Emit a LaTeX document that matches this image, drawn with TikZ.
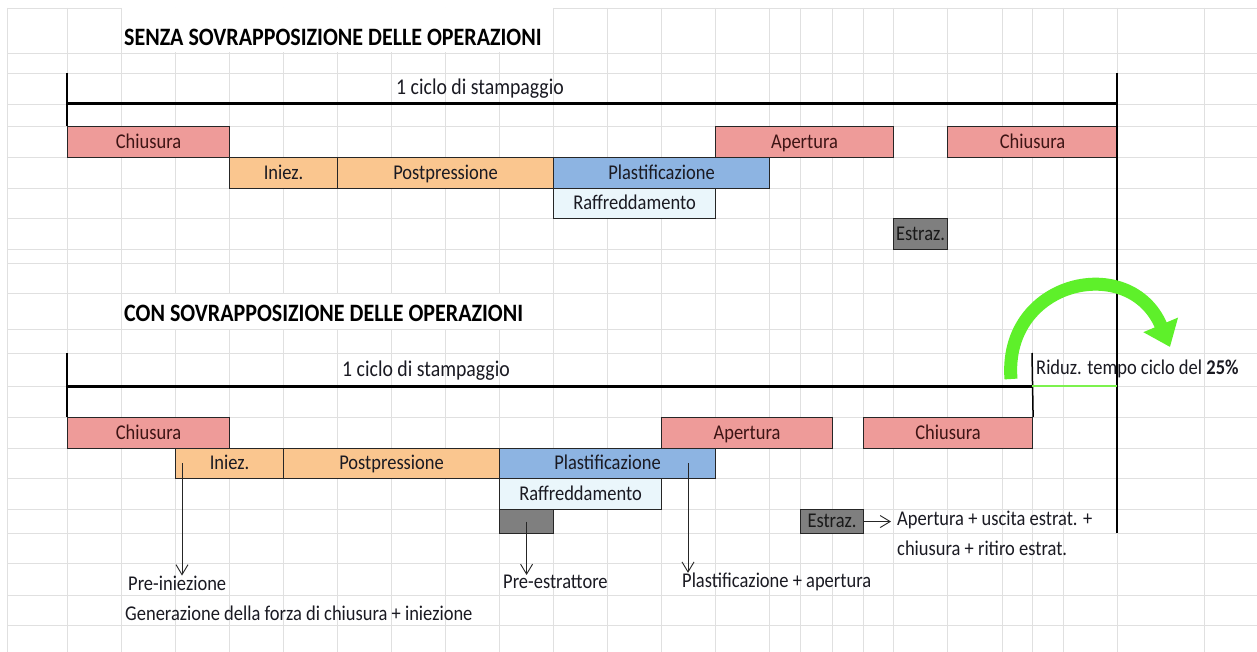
\documentclass[tikz,border=0pt]{standalone}
\usepackage{fontspec}
\setmainfont{Carlito}[FakeStretch=0.88]
\usetikzlibrary{arrows.meta,calc}
\definecolor{gridc}{HTML}{E0E0E0}
\definecolor{redc}{HTML}{EE9B99}
\definecolor{orac}{HTML}{FAC68F}
\definecolor{bluc}{HTML}{8DB4E2}
\definecolor{cyac}{HTML}{EAF6FB}
\definecolor{grac}{HTML}{7F7F7F}
\definecolor{grnc}{HTML}{5EF02A}
\definecolor{grnl}{HTML}{7CF24E}
\definecolor{txtc}{HTML}{1A1A22}
\definecolor{redtxt}{HTML}{3D1414}
\begin{document}
\begin{tikzpicture}[x=1pt,y=-1pt,
  bx/.style={draw=black!85,line width=1.1pt,inner sep=0pt,anchor=north west,
    font=\fontsize{21}{23}\selectfont,text=txtc,text height=16pt,text depth=4pt},
  rbx/.style={bx,fill=redc,text=redtxt},
  obx/.style={bx,fill=orac},
  bbx/.style={bx,fill=bluc},
  cbx/.style={bx,fill=cyac},
  gbx/.style={bx,fill=grac,text=black!90},
  ttl/.style={anchor=west,inner sep=0pt,font=\bfseries\fontsize{25}{27}\selectfont},
  cyc/.style={inner sep=0pt,font=\fontsize{22.5}{24}\selectfont,text=txtc},
  ann/.style={anchor=west,inner sep=0pt,font=\fontsize{21}{23}\selectfont,text=txtc},
  axis/.style={draw=black,line width=1.5pt},
  bar/.style={draw=black,line width=3pt},
  arr/.style={draw=black!85,line width=0.9pt,-{Straight Barb[length=10pt,width=12pt]}},
]
\useasboundingbox (0,0) rectangle (1257,652);
\fill[white] (0,0) rectangle (1257,652);
% grid
\foreach \gx in {7,67,121,175,229,283,337,391,445,499,553,607,661,715,769,800,832,863,893,947,1002,1032,1063,1117,1204}
  \draw[gridc,line width=0.8pt] (\gx,8) -- (\gx,652);
\foreach \gy in {8,53,73,104,126,157,188,218,249,263,293,329,353,386,417,448,478,509,533,563,595,625}
  \draw[gridc,line width=0.8pt] (7,\gy) -- (1257,\gy);
% merged title cells
\fill[white] (121.5,8.5) rectangle (552.5,52.5);
\fill[white] (121.5,293.5) rectangle (552.5,328.5);

% ===== top section =====
\node[ttl] (t1) at (124,37) {SENZA SOVRAPPOSIZIONE DELLE OPERAZIONI};
\coordinate (tl1) at (67,73);
\coordinate (tl2) at (67,104);
\coordinate (tr1) at (1117,73);
\coordinate (tr2) at (1117,104);
\coordinate (tr3) at (1117,533);
\node[cyc] (cy1) at (480,89) {1 ciclo di stampaggio};

\node[rbx,minimum width=162pt,minimum height=31pt] (c1) at (67,126) {Chiusura};
\node[rbx,minimum width=178pt,minimum height=31pt] (ap1) at (715,126) {Apertura};
\node[rbx,minimum width=170pt,minimum height=31pt] (c2) at (947,126) {Chiusura};
\node[obx,minimum width=108pt,minimum height=31pt] (in1) at (229,157) {Iniez.};
\node[obx,minimum width=216pt,minimum height=31pt] (pp1) at (337,157) {Postpressione};
\node[bbx,minimum width=216pt,minimum height=31pt] (pl1) at (553,157) {Plastificazione};
\node[cbx,minimum width=162pt,minimum height=30pt] (rf1) at (553,188) {Raffreddamento};
\node[gbx,minimum width=54pt,minimum height=31pt] (es1) at (893,218) {Estraz.};

\draw[axis] (tl1) -- (c1.north west);
\draw[axis] (tr1) -- (tr3);
\draw[bar] (tl2) -- (tr2);

% ===== bottom section =====
\node[ttl] (t2) at (124,313) {CON SOVRAPPOSIZIONE DELLE OPERAZIONI};
\coordinate (bl1) at (67,353);
\coordinate (bl2) at (67,386);
\coordinate (br1) at (1032,353);
\coordinate (br2) at (1032,386);
\coordinate (br3) at (1117,386);
\node[cyc] (cy2) at (426,371) {1 ciclo di stampaggio};

\node[rbx,minimum width=162pt,minimum height=31pt] (c3) at (67,417) {Chiusura};
\node[rbx,minimum width=171pt,minimum height=31pt] (ap2) at (661,417) {Apertura};
\node[rbx,minimum width=169pt,minimum height=31pt] (c4) at (863,417) {Chiusura};
\node[obx,minimum width=108pt,minimum height=30pt] (in2) at (175,448) {Iniez.};
\node[obx,minimum width=216pt,minimum height=30pt] (pp2) at (283,448) {Postpressione};
\node[bbx,minimum width=216pt,minimum height=30pt] (pl2) at (499,448) {Plastificazione};
\node[cbx,minimum width=162pt,minimum height=31pt] (rf2) at (499,478) {Raffreddamento};
\node[gbx,minimum width=54pt,minimum height=24pt] (gx) at (499,509) {};
\node[gbx,minimum width=63pt,minimum height=24pt] (es2) at (800,509) {Estraz.};

\draw[axis] (bl1) -- (c3.north west);
\draw[axis] (br1) -- (c4.north east);
\draw[bar] (bl2) -- (br2);
\draw[grnl,line width=2.5pt] (br2) -- (br3);

\node[ann] (rid) at (1036,369) {Riduz. tempo ciclo del \textbf{25\%}};

% green curved arrow
\coordinate (g0) at (1011,379);
\coordinate (g1) at (1170,347);
\draw[grnc,line width=13pt,-{Triangle[length=24pt,width=36pt]}]
  (g0) .. controls (1003,280) and (1130,252) .. (g1);

% annotations
\node[ann] (n1) at (128,583) {Pre-iniezione};
\node[ann] (n2) at (125,613) {Generazione della forza di chiusura + iniezione};
\node[ann] (n3) at (503,582) {Pre-estrattore};
\node[ann] (n4) at (682,582) {Plastificazione + apertura};
\node[ann] (n5) at (897,520) {Apertura + uscita estrat. +};
\node[ann] (n6) at (897,548) {chiusura + ritiro estrat.};

\coordinate (a1) at (182,463);
\coordinate (a4) at (688,463);
\draw[arr] (a1) -- (a1 |- n1.north);
\draw[arr] (gx.center) -- (gx.center |- n3.north);
\draw[arr] (a4) -- (a4 |- n4.north);
\draw[arr,shorten >=6pt] (es2.east) -- (es2.east -| n5.west);
\end{tikzpicture}
\end{document}
